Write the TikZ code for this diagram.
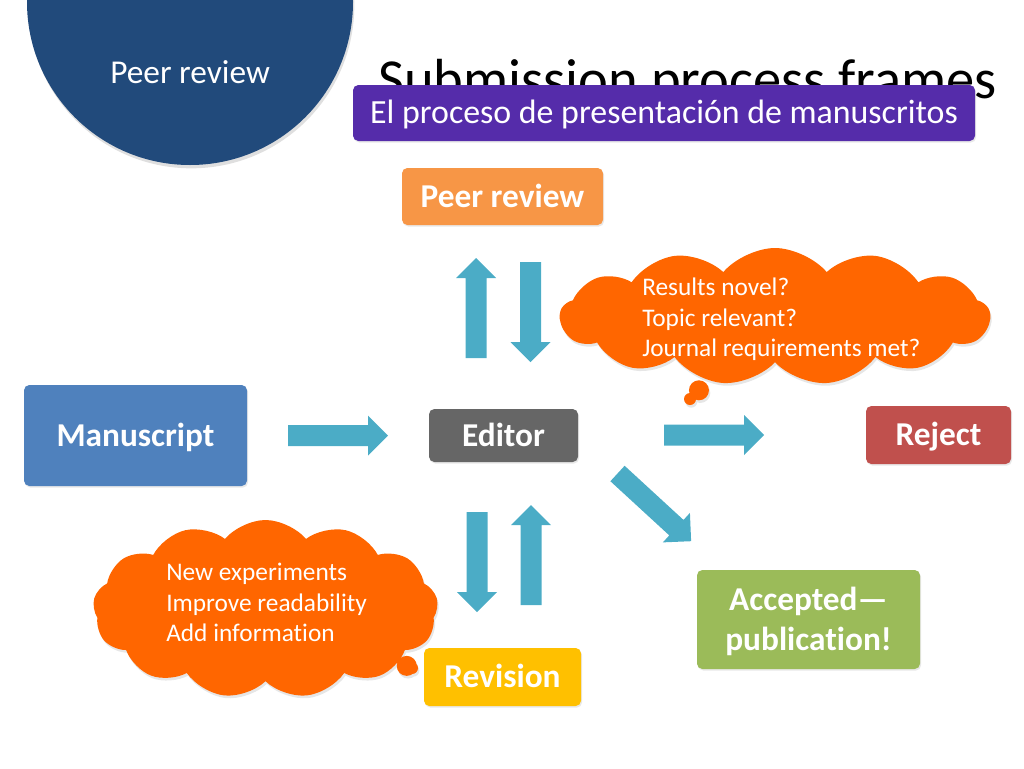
\documentclass[tikz,border=0pt]{standalone}
\usepackage{fontspec}
\setmainfont{Carlito}[Ligatures=NoCommon]
\usetikzlibrary{shapes.callouts,shapes.symbols,shadows}
\definecolor{circblue}{HTML}{214A7B}
\definecolor{titlepurple}{HTML}{552CAA}
\definecolor{peerorange}{HTML}{F79646}
\definecolor{cloudorange}{HTML}{FF6600}
\definecolor{manblue}{HTML}{4F81BD}
\definecolor{editgray}{HTML}{666666}
\definecolor{rejred}{HTML}{C0504D}
\definecolor{accgreen}{HTML}{9BBB59}
\definecolor{revyellow}{HTML}{FFC000}
\definecolor{arrowblue}{HTML}{4BACC6}
\begin{document}
\begin{tikzpicture}[x=0.75pt,y=-0.75pt,
  box/.style={rounded corners=4pt, text=white, align=center, inner sep=0pt,
    font=\fontsize{25}{30}\selectfont\bfseries, text height=16pt, text depth=0pt,
    drop shadow={opacity=0.18, shadow xshift=0.8pt, shadow yshift=-1.2pt}},
  cloudc/.style={cloud callout, cloud puffs=13, cloud puff arc=100,
    cloud ignores aspect, fill=cloudorange, inner sep=0pt,
    callout pointer segments=2,
    callout pointer start size=19pt and 21pt,
    callout pointer end size=9pt and 9pt,
    drop shadow={opacity=0.2, shadow xshift=1pt, shadow yshift=-2pt}},
  cloudtext/.style={anchor=north west, inner sep=0pt, text=white, align=left,
    font=\fontsize{19}{22.9}\selectfont},
  blockarrow/.pic={
    \fill[arrowblue] (0,-10.5) -- (80,-10.5) -- (80,-20) -- (100,0)
      -- (80,20) -- (80,10.5) -- (0,10.5) -- cycle;}
]
\useasboundingbox (0,0) rectangle (1024,768);

% header circle
\node[circle, minimum size=244.5pt, fill=circblue, inner sep=0pt,
  drop shadow={opacity=0.25, shadow xshift=1pt, shadow yshift=-2.5pt}] (circ) at (190,2) {};
\node[text=white, font=\fontsize{25}{30}\selectfont, inner sep=0pt] (circtext) at (190,72) {Peer review};

% title and subtitle
\node[anchor=base west, inner sep=0pt, font=\fontsize{42.4}{50}\selectfont] (title) at (378,98) {Submission process frames};
\node[box, fill=titlepurple, font=\fontsize{25.4}{30}\selectfont, minimum width=466.5pt, minimum height=42pt, drop shadow={opacity=0}] (sub) at (664,113) {El proceso de presentación de manuscritos};

% boxes
\node[box, fill=peerorange, minimum width=150.75pt, minimum height=42.75pt] (peer) at (502.5,196.5) {Peer review};
\node[box, fill=manblue, minimum width=167.25pt, minimum height=75.75pt] (man) at (135.5,435.5) {Manuscript};
\node[box, fill=editgray, minimum width=111.75pt, minimum height=39.75pt] (editor) at (503.5,435.5) {Editor};
\node[box, fill=rejred, minimum width=108.75pt, minimum height=43.5pt] (reject) at (938.5,435) {Reject};
\node[box, fill=accgreen, minimum width=167.25pt, minimum height=74.25pt, text height=46pt] (acc) at (808.5,619.5) {Accepted—\\publication!};
\node[box, fill=revyellow, minimum width=117.75pt, minimum height=43.5pt] (rev) at (502.5,677) {Revision};

% block arrows
\pic[rotate=90] at (476,358) {blockarrow};
\pic[rotate=-90] at (530.5,262) {blockarrow};
\pic at (288,435.5) {blockarrow};
\pic at (664,435) {blockarrow};
\pic[rotate=-42.6] at (617.5,473.5) {blockarrow};
\pic[rotate=-90] at (477,512) {blockarrow};
\pic[rotate=90] at (531,605) {blockarrow};

% clouds
\coordinate (p1) at (690,399);
\node[cloudc, minimum width=322.5pt, minimum height=102.75pt, callout absolute pointer={(p1)}] (cl1) at (775,316.5) {};
\node[cloudtext] (cl1text) at (642,278) {Results novel?\\Topic relevant?\\Journal requirements met?};
\coordinate (p2) at (412,668);
\node[cloudc, minimum width=258.75pt, minimum height=133.5pt, callout absolute pointer={(p2)}] (cl2) at (265.5,609) {};
\node[cloudtext] (cl2text) at (166,563) {New experiments\\Improve readability\\Add information};
\end{tikzpicture}
\end{document}
